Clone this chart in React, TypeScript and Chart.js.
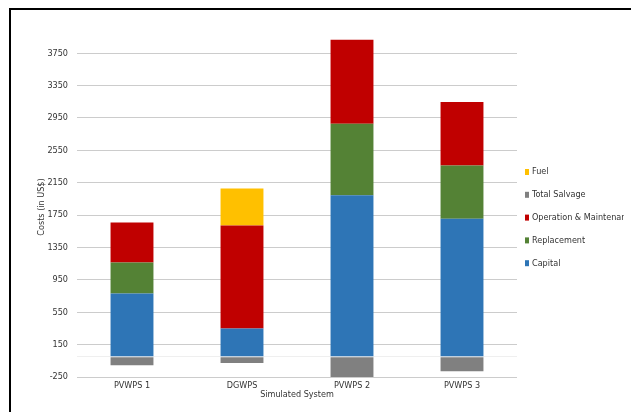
import React, { useEffect, useRef } from "react";
import { Chart, registerables } from "chart.js";

Chart.register(...registerables);

// Cost breakdown per simulated pumping system (US$)
const systems = ["PVWPS 1", "DGWPS", "PVWPS 2", "PVWPS 3"];
const capital = [780, 348, 1994, 1706];
const replacement = [383, 0, 885, 658];
const operationMaintenance = [494, 1275, 1037, 782];
const totalSalvage = [-104, -78, -249, -179];
const fuel = [0, 454, 0, 0];

const yTickValues = [-250, 150, 550, 950, 1350, 1750, 2150, 2550, 2950, 3350, 3750];
const yMin = -250;
const yMax = 3950;

const FONT = '"Liberation Sans Narrow", "DejaVu Sans Condensed", "Liberation Sans", sans-serif';
const TEXT = "#333333";
const SIZE = 9;

// Vertical legend drawn to the right of the plot, last dataset first
const sideLegend = {
  id: "sideLegend",
  afterDraw(chart: any) {
    const { ctx, chartArea } = chart;
    const ds = chart.data.datasets;
    const x = chartArea.right + 8;
    const spacing = 22.8;
    const y0 = 172;
    ctx.save();
    ctx.font = `${SIZE}px ${FONT}`;
    ctx.textBaseline = "middle";
    ctx.textAlign = "left";
    for (let k = 0; k < ds.length; k++) {
      const d = ds[ds.length - 1 - k];
      const y = y0 + k * spacing;
      ctx.fillStyle = d.backgroundColor;
      ctx.fillRect(x, y - 3, 4, 6);
      ctx.fillStyle = TEXT;
      ctx.fillText(d.label, x + 7, y);
    }
    ctx.restore();
  },
};

export default function App() {
  const canvasRef = useRef<HTMLCanvasElement | null>(null);

  useEffect(() => {
    const canvas = canvasRef.current;
    if (!canvas) return;
    const chart = new Chart(canvas, {
      type: "bar",
      data: {
        labels: systems,
        datasets: [
          { label: "Capital", data: capital, backgroundColor: "#2E75B6" },
          { label: "Replacement", data: replacement, backgroundColor: "#548235" },
          { label: "Operation & Maintenance", data: operationMaintenance, backgroundColor: "#C00000" },
          { label: "Total Salvage", data: totalSalvage, backgroundColor: "#808080" },
          { label: "Fuel", data: fuel, backgroundColor: "#FFC000" },
        ],
      },
      options: {
        animation: false,
        responsive: false,
        maintainAspectRatio: false,
        devicePixelRatio: 1,
        layout: { padding: { left: 0, right: 107, top: 37, bottom: 0 } },
        datasets: {
          bar: { barPercentage: 0.39, categoryPercentage: 1, borderWidth: 0 },
        },
        plugins: {
          legend: { display: false },
          tooltip: { enabled: false },
        },
        scales: {
          x: {
            stacked: true,
            grid: { display: false, drawTicks: false },
            border: { display: false },
            ticks: {
              color: TEXT,
              font: { family: FONT, size: SIZE },
              padding: 3,
              maxRotation: 0,
            },
            title: {
              display: true,
              text: "Simulated System",
              color: TEXT,
              font: { family: FONT, size: SIZE },
              padding: { top: 0, bottom: 12 },
            },
            afterFit(scale: any) {
              scale.height = 35;
            },
          },
          y: {
            stacked: true,
            min: yMin,
            max: yMax,
            afterBuildTicks(scale: any) {
              scale.ticks = [...yTickValues, 0].sort((a, b) => a - b).map((v) => ({ value: v }));
            },
            afterFit(scale: any) {
              scale.width = 77;
            },
            grid: {
              drawTicks: false,
              lineWidth: 1,
              color: (c: any) => (c.tick && c.tick.value === 0 ? "#EFEFEF" : "#CCCCCC"),
            },
            border: { display: false },
            ticks: {
              color: TEXT,
              font: { family: FONT, size: SIZE },
              padding: 9,
              callback: (v: any) => (yTickValues.includes(Number(v)) ? String(v) : ""),
            },
            title: {
              display: true,
              text: "Costs (in US$)",
              color: TEXT,
              font: { family: FONT, size: SIZE },
              padding: { top: 36, bottom: 0 },
            },
          },
        },
      },
      plugins: [sideLegend],
    });
    return () => chart.destroy();
  }, []);

  return (
    <div>
      <canvas
        ref={canvasRef}
        width={624}
        height={412}
        style={{ position: "fixed", left: 0, top: 0, width: 624, height: 412, background: "#fff" }}
      />
      <div
        style={{
          position: "fixed",
          left: 9,
          top: 8,
          width: 640,
          height: 420,
          borderLeft: "2px solid #000",
          borderTop: "2px solid #000",
          pointerEvents: "none",
        }}
      />
    </div>
  );
}
